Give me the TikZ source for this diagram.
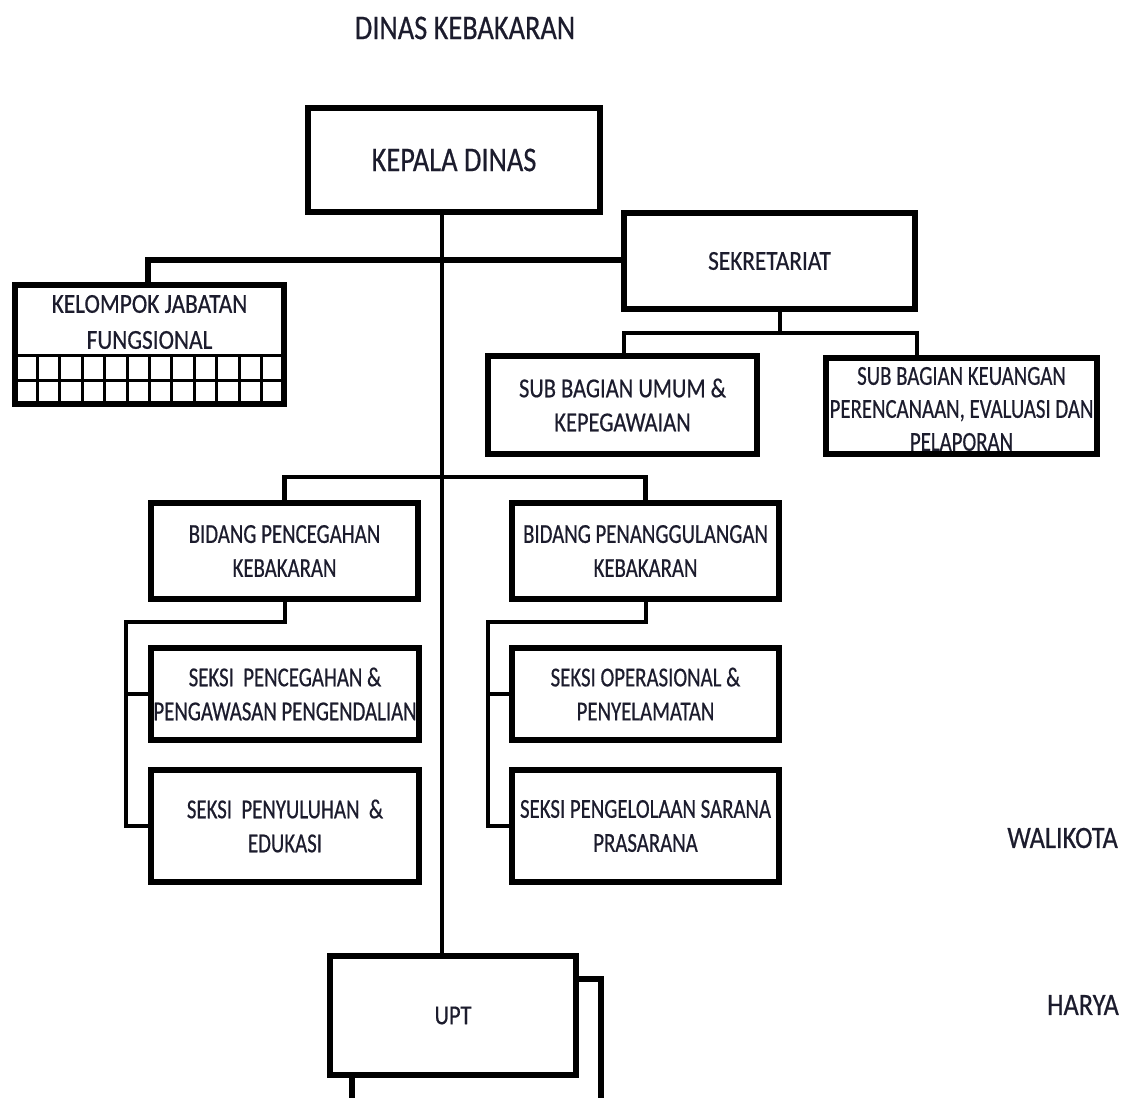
\documentclass[tikz,border=0pt]{standalone}
\usepackage{fontspec}
\setmainfont{Carlito}[FakeStretch=0.82,FakeBold=0.5]
\newfontfamily\narrowf{Carlito}[FakeStretch=0.76,FakeBold=0.5]
\newfontfamily\widef{Carlito}[FakeStretch=0.85,FakeBold=0.5]
\usetikzlibrary{calc}
\definecolor{txt}{RGB}{28,28,45}
\begin{document}
\begin{tikzpicture}[x=1pt,y=-1pt,
  box/.style={draw, line width=6.5pt, fill=white, inner sep=0pt, outer sep=0pt, align=center,
    text=txt, font=\fontsize{27.4}{34}\selectfont},
  nbox/.style={box, font=\narrowf\fontsize{27.4}{34}\selectfont},
  lbl/.style={inner sep=0pt, align=center, text=txt, font=\fontsize{27.4}{34}\selectfont},
  bigl/.style={inner sep=0pt, align=center, text=txt, font=\fontsize{34.6}{40}\selectfont},
  side/.style={inner sep=0pt, align=center, text=txt, font=\widef\fontsize{31}{36}\selectfont},
  thick line/.style={line width=6pt},
  mid line/.style={line width=4.5pt},
  thin line/.style={line width=4pt}]
\clip (0,0) rectangle (1131,1097);
\fill[white] (0,0) rectangle (1131,1097);

% title and side texts
\node[bigl] (title) at (465,28) {DINAS KEBAKARAN};
\node[side, anchor=east] (wali) at (1118,838) {WALIKOTA};
\node[side, anchor=east] (harya) at (1119,1005) {HARYA};

% boxes
\node[box, bigl, draw, line width=6.5pt, minimum width=292pt, minimum height=104pt] (kepala) at (454,160) {KEPALA DINAS};
\node[box, font=\widef\fontsize{27.4}{34}\selectfont, minimum width=291pt, minimum height=96pt] (sek) at (769.5,261) {SEKRETARIAT};
\node[box, minimum width=269pt, minimum height=119pt] (kel) at (149.5,344.5) {};
\node[lbl, font=\widef\fontsize{27.4}{36}\selectfont] (keltxt) at (149.5,322) {KELOMPOK JABATAN\\FUNGSIONAL};
\node[box, minimum width=269pt, minimum height=98pt] (umum) at (622.5,405) {SUB BAGIAN UMUM \&\\KEPEGAWAIAN};
\node[box, minimum width=271pt, minimum height=96pt] (keu) at (961.5,406) {};
\node[lbl, font=\narrowf\fontsize{27.4}{33}\selectfont] (keutxt) at (961.5,409) {SUB BAGIAN KEUANGAN\\PERENCANAAN, EVALUASI DAN\\PELAPORAN};
\node[nbox, minimum width=267pt, minimum height=96pt] (bp) at (284.5,551) {BIDANG PENCEGAHAN\\KEBAKARAN};
\node[nbox, minimum width=267pt, minimum height=96pt] (bk) at (645.5,551) {BIDANG PENANGGULANGAN\\KEBAKARAN};
\node[nbox, minimum width=268pt, minimum height=92pt] (s1) at (285,694) {SEKSI~~PENCEGAHAN \&\\PENGAWASAN PENGENDALIAN};
\node[nbox, minimum width=268pt, minimum height=112pt] (s2) at (285,826) {SEKSI~~PENYULUHAN~~\&\\EDUKASI};
\node[nbox, minimum width=267pt, minimum height=92pt] (s3) at (645.5,694) {SEKSI OPERASIONAL \&\\PENYELAMATAN};
\node[nbox, minimum width=267pt, minimum height=112pt] (s4) at (645.5,826) {SEKSI PENGELOLAAN SARANA\\PRASARANA};

% UPT with shadow box
\draw[line width=5.5pt, fill=white] (352,1120) rectangle (601,979);
\node[box, minimum width=246pt, minimum height=119pt] (upt) at (453,1015.5) {UPT};

% grid of Kelompok
\coordinate (g1) at (0,355);
\coordinate (g2) at (0,380);
\draw[line width=3pt] (kel.west |- g1) -- (kel.east |- g1);
\draw[line width=3pt] (kel.west |- g2) -- (kel.east |- g2);
\foreach \i in {1,...,11} {
  \coordinate (gc) at ($(kel.west)!\i/12!(kel.east)$);
  \draw[line width=3pt] (gc |- g1) -- (gc |- kel.south);
}

% connectors
\coordinate (spine) at (442,0);
\coordinate (bar1) at (0,260);
\coordinate (kx) at (148,0);
\draw[thin line] (kepala.south -| spine) -- (upt.north -| spine);
\draw[thick line] (kx |- bar1) -- (sek.west |- bar1);
\draw[thick line, line cap=rect] (kx |- bar1) -- (kel.north -| kx);

\coordinate (sx) at (780,0);
\coordinate (bar2) at (0,333);
\coordinate (ux) at (624,0);
\coordinate (kux) at (917,0);
\draw[mid line] (sek.south -| sx) -- (sx |- bar2);
\draw[mid line, line cap=rect] (ux |- bar2) -- (kux |- bar2);
\draw[mid line] (ux |- bar2) -- (umum.north -| ux);
\draw[mid line] (kux |- bar2) -- (keu.north -| kux);

\coordinate (bar3) at (0,477);
\draw[mid line, line cap=rect] (bp.north |- bar3) -- (bk.north |- bar3);
\draw[mid line] (bp.north |- bar3) -- (bp.north);
\draw[mid line] (bk.north |- bar3) -- (bk.north);

% left bracket
\coordinate (lb) at (126,0);
\coordinate (bar4) at (0,622);
\draw[thin line, line join=miter] (bp.south) -- (bp.south |- bar4) -- (lb |- bar4) -- (lb |- s2.west) -- (s2.west);
\draw[thin line] (lb |- s1.west) -- (s1.west);

% right bracket
\coordinate (rb) at (488,0);
\draw[thin line, line join=miter] (bk.south) -- (bk.south |- bar4) -- (rb |- bar4) -- (rb |- s4.west) -- (s4.west);
\draw[thin line] (rb |- s3.west) -- (s3.west);
\end{tikzpicture}
\end{document}
